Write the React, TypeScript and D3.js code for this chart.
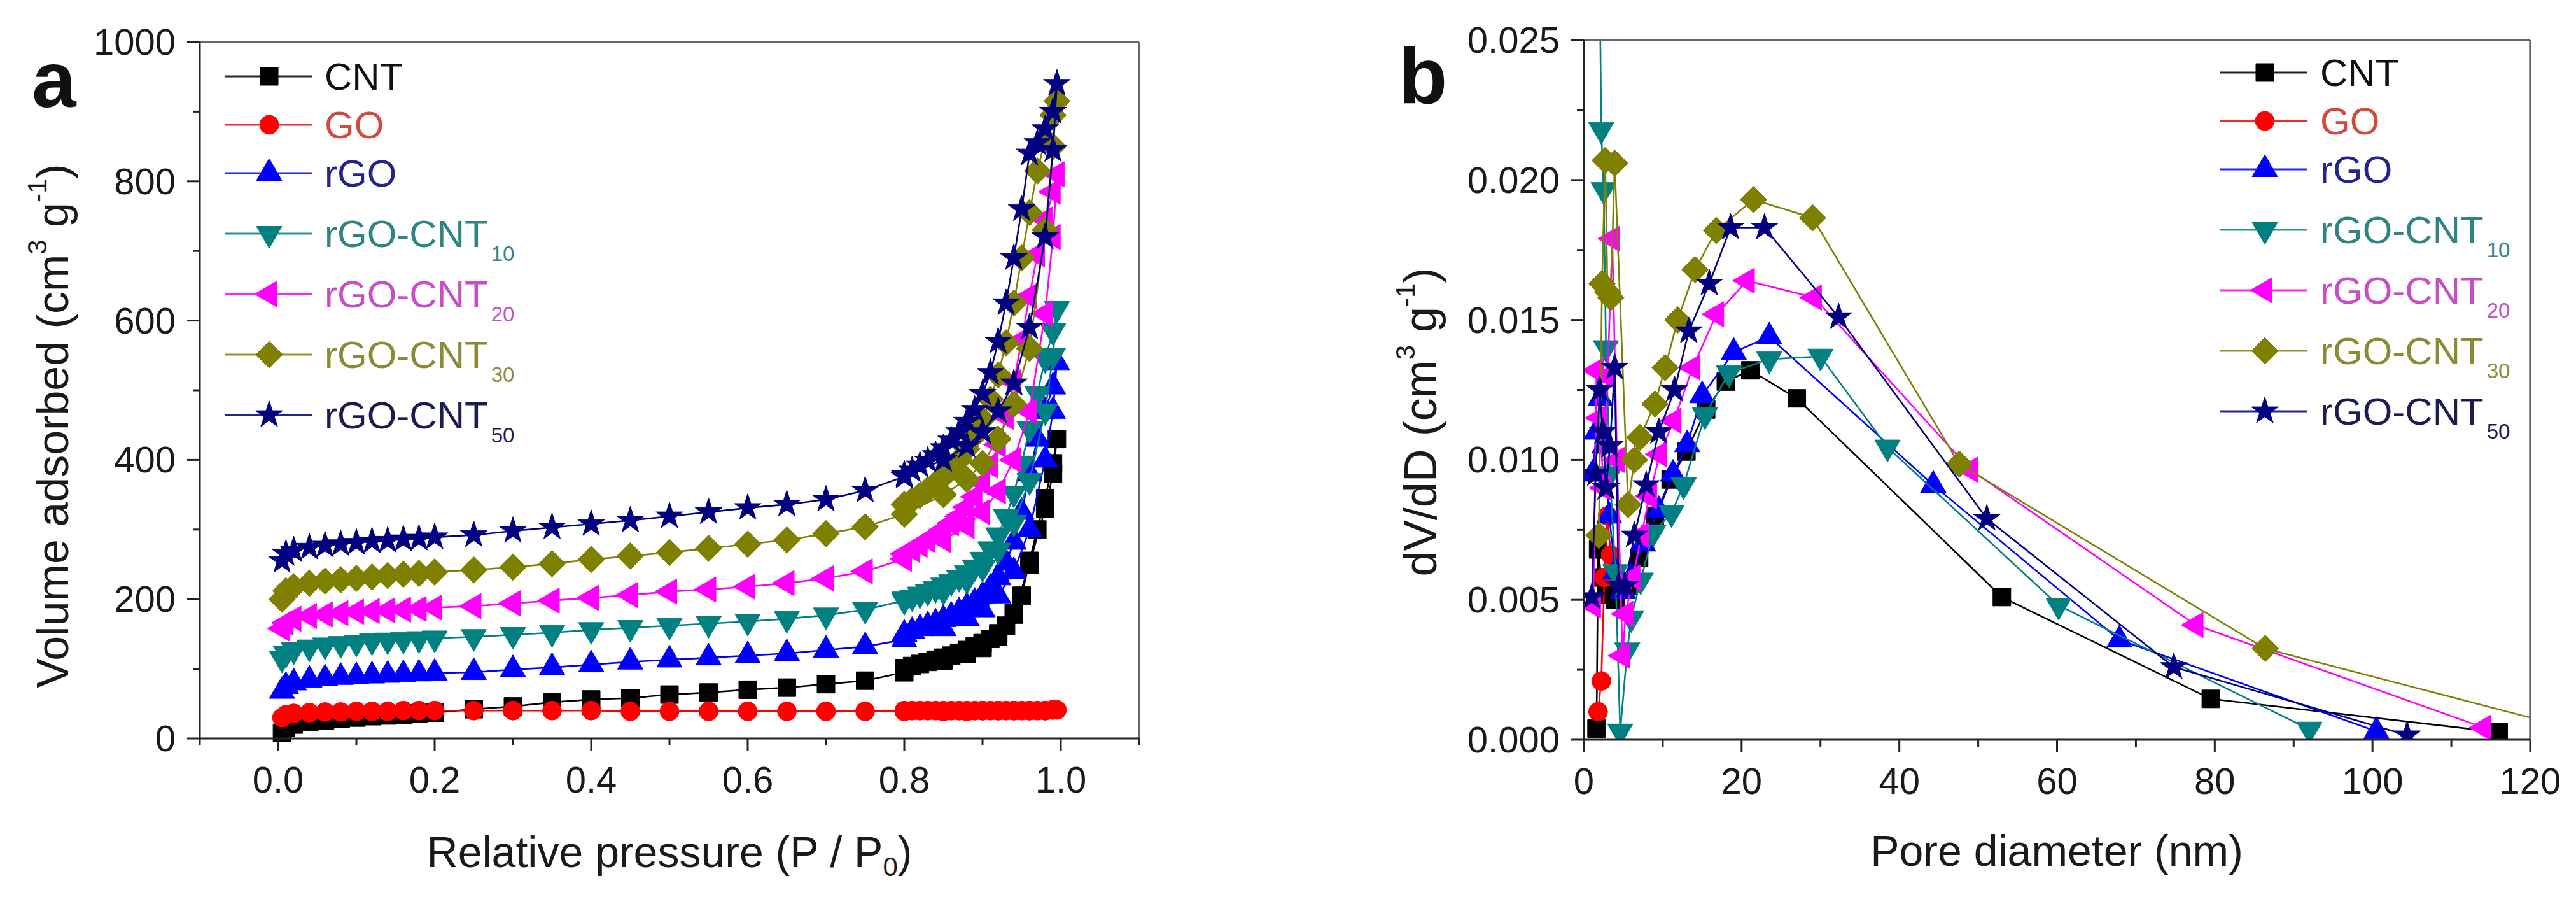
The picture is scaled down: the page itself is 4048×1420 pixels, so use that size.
import React from 'react';
import * as d3 from 'd3';

// ---------------- DATA ----------------
const seriesNames = ['CNT', 'GO', 'rGO', 'rGO-CNT10', 'rGO-CNT20', 'rGO-CNT30', 'rGO-CNT50'];

// Panel a: N2 isotherms (adsorption then desorption branch)
const adsP = [0.005, 0.01, 0.02, 0.04, 0.06, 0.08, 0.10, 0.12, 0.14, 0.16, 0.18, 0.20, 0.25, 0.30, 0.35, 0.40, 0.45, 0.50, 0.55, 0.60, 0.65, 0.70, 0.75, 0.80, 0.85, 0.88, 0.90, 0.92, 0.94, 0.96, 0.98, 0.99, 0.995];
const desP = [0.99, 0.98, 0.97, 0.96, 0.95, 0.94, 0.93, 0.92, 0.91, 0.90, 0.89, 0.88, 0.87, 0.86, 0.85, 0.84, 0.83, 0.82, 0.81, 0.80];

const cntAds = [8, 15, 20, 24, 26, 28, 30, 32, 33, 34, 36, 37, 42, 46, 52, 56, 58, 63, 66, 70, 73, 78, 83, 95, 112, 122, 130, 146, 180, 250, 330, 380, 430];
const cntDes = [395, 345, 300, 255, 205, 178, 162, 151, 143, 137, 132, 127, 123, 119, 116, 113, 110, 107, 104, 101];
const goAds = [30, 34, 36, 37, 38, 38, 39, 39, 39, 40, 40, 40, 40, 40, 40, 40, 39, 39, 39, 39, 39, 39, 39, 39, 39, 39, 40, 40, 40, 40, 40, 41, 41];
const goDes = [41, 40, 40, 40, 40, 40, 40, 40, 40, 40, 40, 40, 40, 40, 40, 40, 40, 40, 40, 40];
const rgoAds = [68, 75, 80, 84, 86, 88, 89, 90, 91, 92, 93, 94, 95, 99, 102, 106, 110, 113, 116, 119, 122, 127, 132, 142, 158, 172, 185, 205, 240, 300, 400, 470, 540];
const rgoDes = [505, 470, 430, 380, 325, 282, 252, 231, 216, 205, 196, 189, 182, 176, 171, 166, 162, 158, 154, 150];
const c10Ads = [115, 122, 127, 131, 134, 136, 138, 140, 141, 142, 143, 144, 146, 149, 152, 156, 159, 162, 165, 168, 172, 177, 185, 198, 212, 228, 245, 270, 310, 370, 470, 550, 617];
const c10Des = [585, 545, 495, 445, 395, 352, 318, 292, 272, 257, 246, 238, 231, 225, 220, 215, 211, 207, 203, 200];
const c20Ads = [158, 166, 172, 176, 178, 180, 182, 183, 184, 185, 186, 188, 190, 194, 198, 202, 206, 211, 214, 218, 223, 230, 240, 258, 285, 305, 325, 355, 400, 470, 610, 720, 810];
const c20Des = [785, 745, 695, 635, 572, 512, 462, 422, 392, 367, 347, 332, 319, 309, 300, 292, 285, 278, 271, 265];
const c30Ads = [200, 212, 218, 223, 226, 228, 230, 232, 234, 236, 237, 239, 242, 246, 251, 257, 262, 267, 273, 279, 285, 294, 304, 322, 350, 372, 395, 430, 480, 560, 730, 850, 915];
const c30Des = [895, 860, 815, 755, 690, 625, 568, 522, 487, 458, 435, 416, 400, 387, 376, 366, 357, 349, 342, 336];
const c50Ads = [255, 265, 270, 274, 277, 279, 281, 283, 284, 286, 287, 289, 292, 298, 303, 308, 313, 319, 325, 331, 336, 343, 356, 376, 400, 420, 440, 470, 510, 590, 720, 845, 940];
const c50Des = [900, 875, 855, 840, 760, 690, 625, 570, 525, 495, 472, 455, 440, 428, 417, 407, 399, 392, 385, 379];

// Panel b: pore size distributions
const cntD = [1.6, 1.8, 2.2, 3.0, 4.0, 5.5, 7.0, 9.0, 11.0, 13.0, 15.5, 18.0, 21.1, 27.0, 53.0, 79.5, 116.0];
const cntV = [0.0004, 0.0068, 0.0058, 0.0052, 0.0050, 0.0055, 0.0065, 0.0080, 0.0093, 0.0103, 0.0118, 0.0128, 0.0132, 0.0122, 0.0051, 0.00146, 0.00027];
const goD = [1.8, 2.2, 2.6, 3.0, 3.4, 3.9];
const goV = [0.0010, 0.0021, 0.0058, 0.0080, 0.0066, 0.0058];
const rgoD = [1.1, 1.6, 2.1, 2.6, 3.2, 4.0, 5.0, 6.0, 7.5, 9.5, 11.3, 13.1, 15.0, 19.0, 23.5, 44.3, 67.9, 100.5];
const rgoV = [0.0095, 0.0110, 0.0122, 0.0105, 0.0080, 0.0060, 0.0053, 0.0058, 0.0070, 0.0082, 0.0095, 0.01055, 0.0123, 0.01385, 0.0144, 0.0091, 0.00357, 0.0003];
const c10D = [1.9, 2.2, 2.5, 2.8, 3.3, 4.0, 4.6, 5.5, 6.0, 7.2, 8.8, 11.1, 12.65, 15.35, 18.4, 23.5, 30.0, 38.5, 60.2, 92.0];
const c10V = [0.0300, 0.0218, 0.01965, 0.0140, 0.0095, 0.0060, 0.0003, 0.0032, 0.00435, 0.0057, 0.0074, 0.0081, 0.0091, 0.0116, 0.0131, 0.0136, 0.0137, 0.01045, 0.0048, 0.00037];
const c20D = [1.2, 1.6, 2.0, 2.5, 3.0, 3.6, 4.2, 4.9, 5.3, 6.2, 7.3, 8.3, 9.6, 11.4, 13.8, 16.8, 20.7, 29.2, 49.0, 77.6, 114.1];
const c20V = [0.0048, 0.0132, 0.0115, 0.0090, 0.0130, 0.0179, 0.0100, 0.0030, 0.0045, 0.0058, 0.0073, 0.0087, 0.0102, 0.0114, 0.0133, 0.0152, 0.0164, 0.0158, 0.00965, 0.0041, 0.00043];
const c30D = [1.9, 2.3, 2.7, 3.0, 3.4, 3.9, 5.6, 6.4, 7.1, 9.0, 10.3, 11.9, 14.1, 16.8, 21.5, 29.0, 47.6, 86.4, 126.0];
const c30V = [0.0073, 0.0163, 0.0207, 0.0160, 0.0158, 0.0206, 0.0084, 0.0100, 0.0108, 0.0120, 0.0133, 0.0150, 0.0168, 0.0182, 0.0193, 0.01865, 0.00985, 0.00326, 0.00035];
const c50D = [1.0, 1.5, 2.0, 2.4, 2.8, 3.3, 3.9, 4.4, 5.2, 6.4, 7.9, 9.5, 11.5, 13.3, 15.9, 18.6, 22.9, 32.3, 51.1, 74.8, 104.4];
const c50V = [0.0051, 0.0095, 0.0125, 0.0110, 0.0090, 0.0105, 0.0133, 0.0055, 0.0055, 0.0073, 0.0091, 0.0110, 0.0125, 0.0146, 0.0163, 0.0183, 0.0183, 0.0151, 0.0079, 0.0026, 0.00016];

// Ticks
const aXTicks = [0, 0.2, 0.4, 0.6, 0.8, 1.0];
const aXMinor = [-0.1, 0.1, 0.3, 0.5, 0.7, 0.9, 1.1];
const aYTicks = [0, 200, 400, 600, 800, 1000];
const aYMinor = [100, 300, 500, 700, 900];
const bXTicks = [0, 20, 40, 60, 80, 100, 120];
const bXMinor = [10, 30, 50, 70, 90, 110];
const bYTicks = [0, 0.005, 0.01, 0.015, 0.02, 0.025];
const bYMinor = [0.0025, 0.0075, 0.0125, 0.0175, 0.0225];

// ---------------- STYLE ----------------
const FONT = '"Liberation Sans", Arial, Helvetica, sans-serif';
const seriesColors = ['#000000', '#ff0000', '#0000ff', '#008080', '#ff00ff', '#808000', '#000080'];
const legendTextColors = ['#111111', '#d24a3e', '#24248c', '#2f8484', '#c84ec8', '#8b8b36', '#1c1c50'];
const seriesShapes = ['square', 'circle', 'up', 'down', 'left', 'diamond', 'star'];

const isoAds = [cntAds, goAds, rgoAds, c10Ads, c20Ads, c30Ads, c50Ads];
const isoDes = [cntDes, goDes, rgoDes, c10Des, c20Des, c30Des, c50Des];
const psdD = [cntD, goD, rgoD, c10D, c20D, c30D, c50D];
const psdV = [cntV, goV, rgoV, c10V, c20V, c30V, c50V];

function markerD(shape: string): string {
  switch (shape) {
    case 'square': return 'M-14,-14H14V14H-14Z';
    case 'circle': return d3.symbol(d3.symbolCircle, 700)() as string;
    case 'up': return 'M0,-23L20,11.5L-20,11.5Z';
    case 'down': return 'M0,23L20,-11.5L-20,-11.5Z';
    case 'left': return 'M-23,0L11.5,-20L11.5,20Z';
    case 'diamond': return 'M0,-21L21,0L0,21L-21,0Z';
    default: return d3.symbol(d3.symbolStar, 560)() as string;
  }
}

type Pt = [number, number];

function Series({ pts, color, shape, x, y }: { pts: Pt[]; color: string; shape: string; x: any; y: any }) {
  const line = d3.line<Pt>().x((d) => x(d[0])).y((d) => y(d[1]));
  const md = markerD(shape);
  return (
    <g>
      <path d={line(pts) as string} fill="none" stroke={color} strokeWidth={2.6} />
      {pts.map((d, i) => (
        <path key={i} d={md} transform={`translate(${x(d[0])},${y(d[1])})`} fill={color} stroke={color} strokeWidth={1} />
      ))}
    </g>
  );
}

function Axes({ x, y, xt, xm, yt, ym, fx, fy }: any) {
  const [x0, x1] = x.range();
  const [y0, y1] = y.range();
  const major = 20;
  const minor = 11;
  const fs = 58;
  return (
    <g>
      {xt.map((v: number) => (
        <g key={'xt' + v}>
          <line x1={x(v)} x2={x(v)} y1={y0} y2={y0 + major} stroke="#222" strokeWidth={3} />
          <text x={x(v)} y={y0 + 85} textAnchor="middle" fontSize={fs} fill="#1a1a1a">{fx(v)}</text>
        </g>
      ))}
      {xm.map((v: number) => (
        <line key={'xm' + v} x1={x(v)} x2={x(v)} y1={y0} y2={y0 + minor} stroke="#222" strokeWidth={3} />
      ))}
      {yt.map((v: number) => (
        <g key={'yt' + v}>
          <line x1={x0 - major} x2={x0} y1={y(v)} y2={y(v)} stroke="#222" strokeWidth={3} />
          <text x={x0 - 38} y={y(v) + 20} textAnchor="end" fontSize={fs} fill="#1a1a1a">{fy(v)}</text>
        </g>
      ))}
      {ym.map((v: number) => (
        <line key={'ym' + v} x1={x0 - minor} x2={x0} y1={y(v)} y2={y(v)} stroke="#222" strokeWidth={3} />
      ))}
      <line x1={x0} x2={x1} y1={y1} y2={y1} stroke="#666" strokeWidth={3.5} />
      <line x1={x1} x2={x1} y1={y1} y2={y0} stroke="#666" strokeWidth={3.5} />
      <line x1={x0} x2={x0} y1={y1} y2={y0 + 1.5} stroke="#222" strokeWidth={3} />
      <line x1={x0 - 1.5} x2={x1} y1={y0} y2={y0} stroke="#222" strokeWidth={3} />
    </g>
  );
}

function Legend({ lx, ly }: { lx: number; ly: number }) {
  let yy = ly;
  const rows: any[] = [];
  seriesNames.forEach((name, i) => {
    const m = name.match(/^(.*?)(\d+)$/);
    const main = m ? m[1] : name;
    const sub = m ? m[2] : '';
    if (i > 0) yy += sub ? 95 : 76;
    const md = markerD(seriesShapes[i]);
    rows.push(
      <g key={name}>
        <line x1={lx} x2={lx + 137} y1={yy} y2={yy} stroke={seriesColors[i]} strokeWidth={3} opacity={0.85} />
        <path d={md} transform={`translate(${lx + 70},${yy})`} fill={seriesColors[i]} stroke={seriesColors[i]} strokeWidth={1} />
        <text x={lx + 157} y={yy + 21} fontSize={60} fill={legendTextColors[i]}>
          {main}
          {sub ? <tspan fontSize={33} dx={5} dy={22}>{sub}</tspan> : null}
        </text>
      </g>
    );
  });
  return <g>{rows}</g>;
}

export default function App() {
  const xA = d3.scaleLinear().domain([-0.1, 1.1]).range([314, 1790]);
  const yA = d3.scaleLinear().domain([0, 1000]).range([1160, 66]);
  const xB = d3.scaleLinear().domain([0, 120]).range([2489, 3976]);
  const yB = d3.scaleLinear().domain([0, 0.025]).range([1162, 63]);

  const isoPts: Pt[][] = isoAds.map((ads, s) =>
    adsP.map((p, i) => [p, ads[i]] as Pt).concat(desP.map((p, i) => [p, isoDes[s][i]] as Pt))
  );
  const psdPts: Pt[][] = psdD.map((ds, s) => ds.map((d, i) => [d, psdV[s][i]] as Pt));

  return (
    <svg width={4048} height={1420} style={{ position: 'absolute', left: 0, top: 0, display: 'block' }} fontFamily={FONT}>
      <rect x={0} y={0} width={4048} height={1420} fill="#ffffff" />
      <defs>
        <clipPath id="clipB">
          <rect x={2489} y={63} width={3976 - 2489} height={1162 - 63} />
        </clipPath>
      </defs>

      {/* Panel a */}
      <g>
        {isoPts.map((pts, s) => (
          <Series key={s} pts={pts} color={seriesColors[s]} shape={seriesShapes[s]} x={xA} y={yA} />
        ))}
        <Axes x={xA} y={yA} xt={aXTicks} xm={aXMinor} yt={aYTicks} ym={aYMinor}
          fx={(v: number) => d3.format('.1f')(v)} fy={(v: number) => d3.format('d')(v)} />
        <Legend lx={353} ly={120} />
        <text x={50} y={168} fontSize={125} fontWeight="bold" fill="#111">a</text>
        <text x={1052} y={1362} textAnchor="middle" fontSize={68} fill="#1a1a1a">
          Relative pressure (P / P<tspan fontSize={42} dy={14}>0</tspan><tspan dy={-14}>)</tspan>
        </text>
        <text transform="translate(107,669) rotate(-90)" textAnchor="middle" fontSize={70} fill="#1a1a1a">
          Volume adsorbed (cm<tspan fontSize={42} dy={-34}>3</tspan><tspan dy={34}> g</tspan><tspan fontSize={42} dy={-34}>-1</tspan><tspan dy={34}>)</tspan>
        </text>
      </g>

      {/* Panel b */}
      <g>
        <g clipPath="url(#clipB)">
          {psdPts.map((pts, s) => (
            <Series key={s} pts={pts} color={seriesColors[s]} shape={seriesShapes[s]} x={xB} y={yB} />
          ))}
        </g>
        <Axes x={xB} y={yB} xt={bXTicks} xm={bXMinor} yt={bYTicks} ym={bYMinor}
          fx={(v: number) => d3.format('d')(v)} fy={(v: number) => d3.format('.3f')(v)} />
        <Legend lx={3489} ly={114} />
        <text x={2198} y={162} fontSize={125} fontWeight="bold" fill="#111">b</text>
        <text x={3232} y={1360} textAnchor="middle" fontSize={68} fill="#1a1a1a">Pore diameter (nm)</text>
        <text transform="translate(2257,663) rotate(-90)" textAnchor="middle" fontSize={72} fill="#1a1a1a">
          dV/dD (cm<tspan fontSize={42} dy={-34}>3</tspan><tspan dy={34}> g</tspan><tspan fontSize={42} dy={-34}>-1</tspan><tspan dy={34}>)</tspan>
        </text>
      </g>
    </svg>
  );
}
